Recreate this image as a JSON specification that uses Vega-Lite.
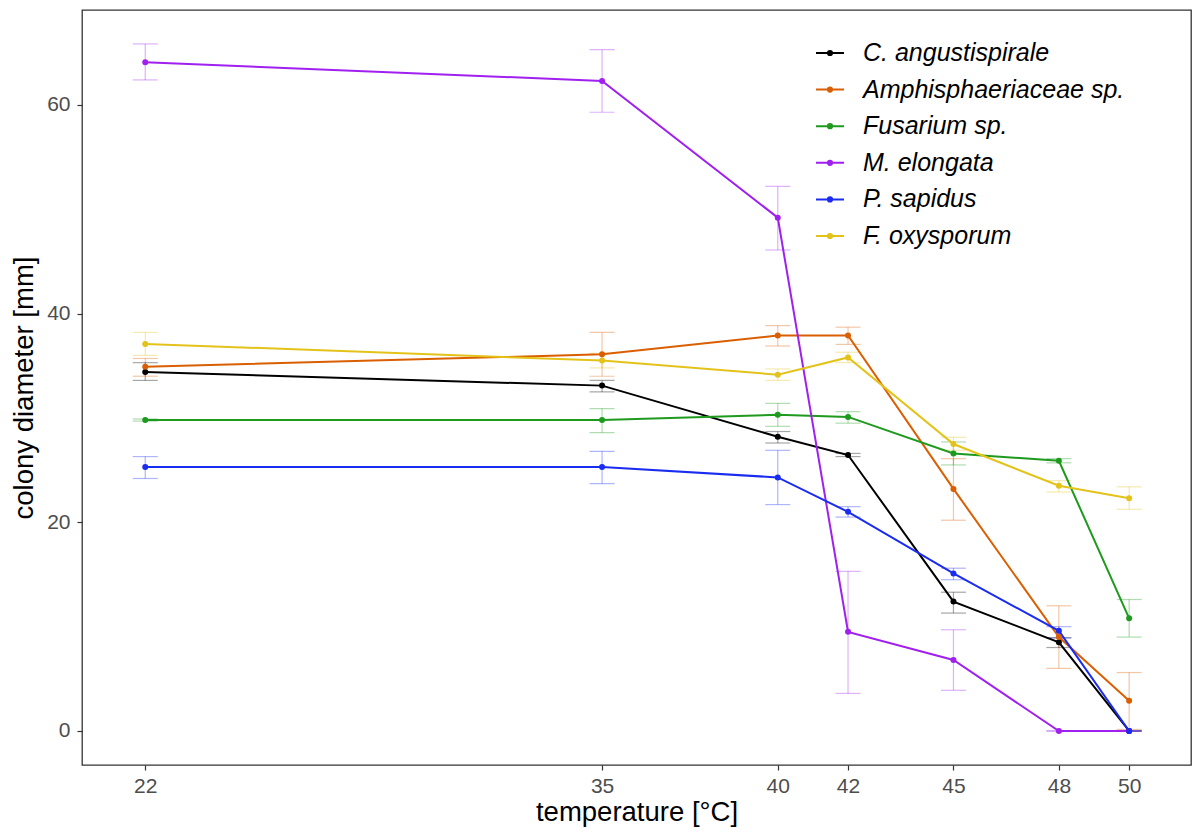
{
  "$schema": "https://vega.github.io/schema/vega-lite/v6.json",
  "width": 1109,
  "height": 755,
  "autosize": "none",
  "padding": {"left": 82, "top": 10, "right": 1, "bottom": 72},
  "background": "white",
  "config": {
    "view": {"stroke": "#333333", "strokeWidth": 1.3},
    "font": "Liberation Sans",
    "axis": {
      "grid": false,
      "domain": false,
      "tickColor": "#333333",
      "tickSize": 5,
      "tickWidth": 1.2,
      "labelColor": "#4D4D4D",
      "labelFontSize": 21,
      "labelFont": "Liberation Sans",
      "titleFont": "Liberation Sans",
      "titleFontSize": 27.5,
      "titleFontWeight": "normal",
      "titleColor": "#000000"
    }
  },
  "data": {
    "values": [
      {"species": "C. angustispirale", "temp": 22, "mean": 34.4, "lo": 33.6, "hi": 35.3},
      {"species": "C. angustispirale", "temp": 35, "mean": 33.1, "lo": 32.5, "hi": 33.6},
      {"species": "C. angustispirale", "temp": 40, "mean": 28.2, "lo": 27.6, "hi": 28.7},
      {"species": "C. angustispirale", "temp": 42, "mean": 26.45, "lo": 26.3, "hi": 26.6},
      {"species": "C. angustispirale", "temp": 45, "mean": 12.4, "lo": 11.3, "hi": 13.3},
      {"species": "C. angustispirale", "temp": 48, "mean": 8.5, "lo": 8.0, "hi": 8.95},
      {"species": "C. angustispirale", "temp": 50, "mean": 0, "lo": 0, "hi": 0},
      {"species": "Amphisphaeriaceae sp.", "temp": 22, "mean": 34.9, "lo": 34.0, "hi": 35.7},
      {"species": "Amphisphaeriaceae sp.", "temp": 35, "mean": 36.1, "lo": 34.0, "hi": 38.2},
      {"species": "Amphisphaeriaceae sp.", "temp": 40, "mean": 37.9, "lo": 36.9, "hi": 38.85},
      {"species": "Amphisphaeriaceae sp.", "temp": 42, "mean": 37.9, "lo": 37.05, "hi": 38.7},
      {"species": "Amphisphaeriaceae sp.", "temp": 45, "mean": 23.2, "lo": 20.2, "hi": 26.1},
      {"species": "Amphisphaeriaceae sp.", "temp": 48, "mean": 9.0, "lo": 6.0, "hi": 12.0},
      {"species": "Amphisphaeriaceae sp.", "temp": 50, "mean": 2.9, "lo": 0.15, "hi": 5.6},
      {"species": "Fusarium sp.", "temp": 22, "mean": 29.8, "lo": 29.7, "hi": 29.9},
      {"species": "Fusarium sp.", "temp": 35, "mean": 29.8, "lo": 28.6, "hi": 30.9},
      {"species": "Fusarium sp.", "temp": 40, "mean": 30.3, "lo": 29.2, "hi": 31.4},
      {"species": "Fusarium sp.", "temp": 42, "mean": 30.1, "lo": 29.5, "hi": 30.6},
      {"species": "Fusarium sp.", "temp": 45, "mean": 26.6, "lo": 25.5, "hi": 27.7},
      {"species": "Fusarium sp.", "temp": 48, "mean": 25.9, "lo": 25.7, "hi": 26.1},
      {"species": "Fusarium sp.", "temp": 50, "mean": 10.8, "lo": 9.0, "hi": 12.6},
      {"species": "M. elongata", "temp": 22, "mean": 64.1, "lo": 62.4, "hi": 65.85},
      {"species": "M. elongata", "temp": 35, "mean": 62.3, "lo": 59.3, "hi": 65.3},
      {"species": "M. elongata", "temp": 40, "mean": 49.2, "lo": 46.1, "hi": 52.2},
      {"species": "M. elongata", "temp": 42, "mean": 9.5, "lo": 3.6, "hi": 15.3},
      {"species": "M. elongata", "temp": 45, "mean": 6.8, "lo": 3.9, "hi": 9.7},
      {"species": "M. elongata", "temp": 48, "mean": 0, "lo": 0, "hi": 0},
      {"species": "M. elongata", "temp": 50, "mean": 0, "lo": 0, "hi": 0},
      {"species": "P. sapidus", "temp": 22, "mean": 25.3, "lo": 24.2, "hi": 26.3},
      {"species": "P. sapidus", "temp": 35, "mean": 25.3, "lo": 23.7, "hi": 26.8},
      {"species": "P. sapidus", "temp": 40, "mean": 24.3, "lo": 21.7, "hi": 26.9},
      {"species": "P. sapidus", "temp": 42, "mean": 21.0, "lo": 20.5, "hi": 21.5},
      {"species": "P. sapidus", "temp": 45, "mean": 15.1, "lo": 14.5, "hi": 15.6},
      {"species": "P. sapidus", "temp": 48, "mean": 9.6, "lo": 8.9, "hi": 10.0},
      {"species": "P. sapidus", "temp": 50, "mean": 0, "lo": 0, "hi": 0},
      {"species": "F. oxysporum", "temp": 22, "mean": 37.1, "lo": 36.0, "hi": 38.2},
      {"species": "F. oxysporum", "temp": 35, "mean": 35.5, "lo": 34.8, "hi": 36.2},
      {"species": "F. oxysporum", "temp": 40, "mean": 34.15, "lo": 33.6, "hi": 34.7},
      {"species": "F. oxysporum", "temp": 42, "mean": 35.8, "lo": 35.3, "hi": 36.3},
      {"species": "F. oxysporum", "temp": 45, "mean": 27.5, "lo": 26.9, "hi": 28.15},
      {"species": "F. oxysporum", "temp": 48, "mean": 23.5, "lo": 22.9, "hi": 24.0},
      {"species": "F. oxysporum", "temp": 50, "mean": 22.3, "lo": 21.25, "hi": 23.4}
    ]
  },
  "encoding": {
    "x": {
      "field": "temp",
      "type": "quantitative",
      "scale": {"domain": [20.2, 51.76], "nice": false, "zero": false},
      "axis": {"values": [22, 35, 40, 42, 45, 48, 50], "title": "temperature [°C]", "labelPadding": 5, "titlePadding": 2}
    },
    "color": {
      "field": "species",
      "type": "nominal",
      "scale": {
        "domain": ["C. angustispirale", "Amphisphaeriaceae sp.", "Fusarium sp.", "M. elongata", "P. sapidus", "F. oxysporum"],
        "range": ["#000000", "#D95F02", "#1E9A1E", "#A020F0", "#1A2CF0", "#E3C31A"]
      },
      "legend": {
        "title": null,
        "orient": "none",
        "legendX": 733,
        "legendY": 28,
        "padding": 0,
        "symbolType": "M-1,0H1M-0.15,0A0.15,0.15,0,1,1,0.15,0A0.15,0.15,0,1,1,-0.15,0M-0.05,0A0.05,0.05,0,1,1,0.05,0A0.05,0.05,0,1,1,-0.05,0",
        "symbolSize": 784,
        "symbolStrokeWidth": 2,
        "symbolOpacity": 1,
        "labelFontSize": 25,
        "labelFontStyle": "italic",
        "labelFont": "Liberation Sans",
        "labelColor": "#000000",
        "labelOffset": 18,
        "rowPadding": 8.6,
        "labelLimit": 500
      }
    }
  },
  "layer": [
    {
      "mark": {"type": "rule", "opacity": 0.35, "strokeWidth": 1.2},
      "encoding": {
        "y": {"field": "lo", "type": "quantitative"},
        "y2": {"field": "hi"}
      }
    },
    {
      "mark": {"type": "tick", "orient": "horizontal", "size": 25, "thickness": 1.2, "opacity": 0.35},
      "encoding": {"y": {"field": "lo", "type": "quantitative"}}
    },
    {
      "mark": {"type": "tick", "orient": "horizontal", "size": 25, "thickness": 1.2, "opacity": 0.35},
      "encoding": {"y": {"field": "hi", "type": "quantitative"}}
    },
    {
      "mark": {"type": "line", "strokeWidth": 2},
      "encoding": {
        "y": {
          "field": "mean",
          "type": "quantitative",
          "scale": {"domain": [-3.26, 69.1], "nice": false, "zero": false},
          "axis": {"values": [0, 20, 40, 60], "title": "colony diameter [mm]", "labelPadding": 7, "titlePadding": 8}
        }
      }
    },
    {
      "mark": {"type": "point", "filled": true, "size": 36, "opacity": 1},
      "encoding": {"y": {"field": "mean", "type": "quantitative"}}
    }
  ]
}
